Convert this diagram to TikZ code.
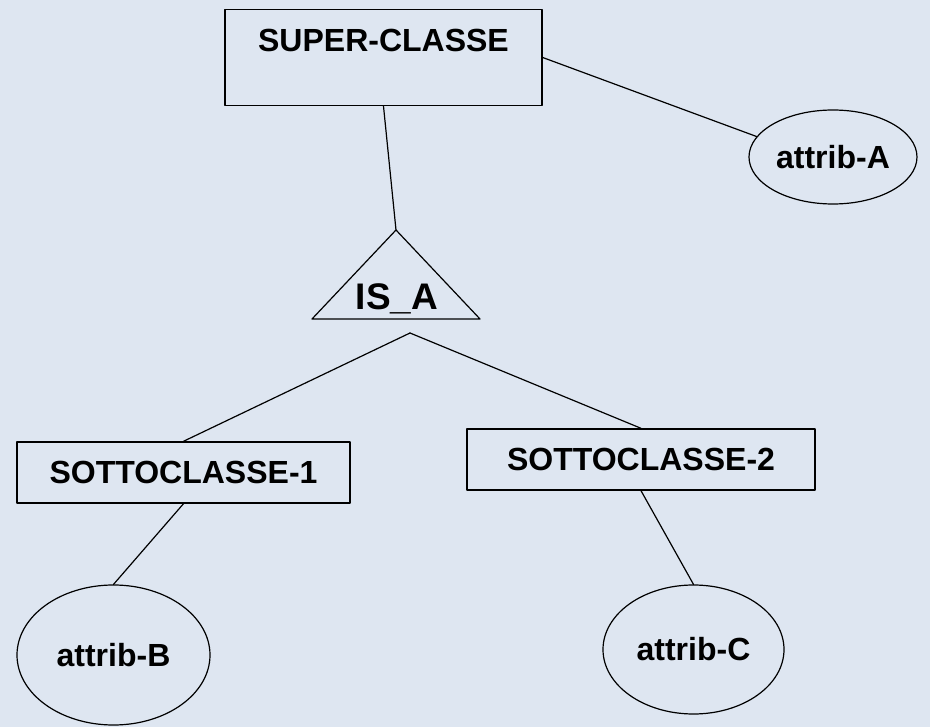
\documentclass[tikz,border=0pt]{standalone}
\usepackage{fontspec}
\setmainfont{Liberation Sans}
\usepackage{tikz}
\usetikzlibrary{shapes.geometric}
\definecolor{sfondo}{RGB}{222,230,241}

\begin{document}
\begin{tikzpicture}[x=1pt,y=-1pt,line cap=round,line join=round,
        box/.style={draw,line width=1.4pt,inner sep=0pt,font=\fontsize{32}{38}\selectfont\bfseries},
        attr/.style={draw,ellipse,line width=1.2pt,inner sep=0pt,font=\fontsize{32}{38}\selectfont\bfseries},
        link/.style={line width=1.2pt}]
        \fill[sfondo] (0,0) rectangle (930,727);
        \useasboundingbox (0,0) rectangle (930,727);

        \node[box,minimum width=317pt,minimum height=96pt,text height=23pt,text depth=34pt] (super) at (383.5,57.5) {SUPER-CLASSE};
        \node[attr,minimum width=168pt,minimum height=94pt] (attrA) at (833,157) {attrib-A};

        \coordinate (isatop) at (396,230);
        \coordinate (isaleft) at (312,319);
        \coordinate (isaright) at (480,319);
        \coordinate (fork) at (410,333);
        \draw[line width=1.2pt] (isatop) -- (isaleft) -- (isaright) -- cycle;
        \node[anchor=base,inner sep=0pt,font=\fontsize{37}{44}\selectfont\bfseries] (isa) at (397,310) {IS\_A};

        \node[box,minimum width=333pt,minimum height=61pt] (sub1) at (183.5,472.5) {SOTTOCLASSE-1};
        \node[box,minimum width=348pt,minimum height=61pt] (sub2) at (641,459.5) {SOTTOCLASSE-2};

        \node[attr,minimum width=193pt,minimum height=140pt] (attrB) at (113.5,655) {attrib-B};
        \node[attr,minimum width=181pt,minimum height=129pt] (attrC) at (693.5,649.5) {attrib-C};

        \draw[link] (super.east) -- (attrA.165);
        \draw[link] (super.south) -- (isatop);
        \draw[link] (fork) -- (sub1.north);
        \draw[link] (fork) -- (sub2.north);
        \draw[link] (sub1.south) -- (attrB.north);
        \draw[link] (sub2.south) -- (attrC.north);
    \end{tikzpicture}
\end{document}
